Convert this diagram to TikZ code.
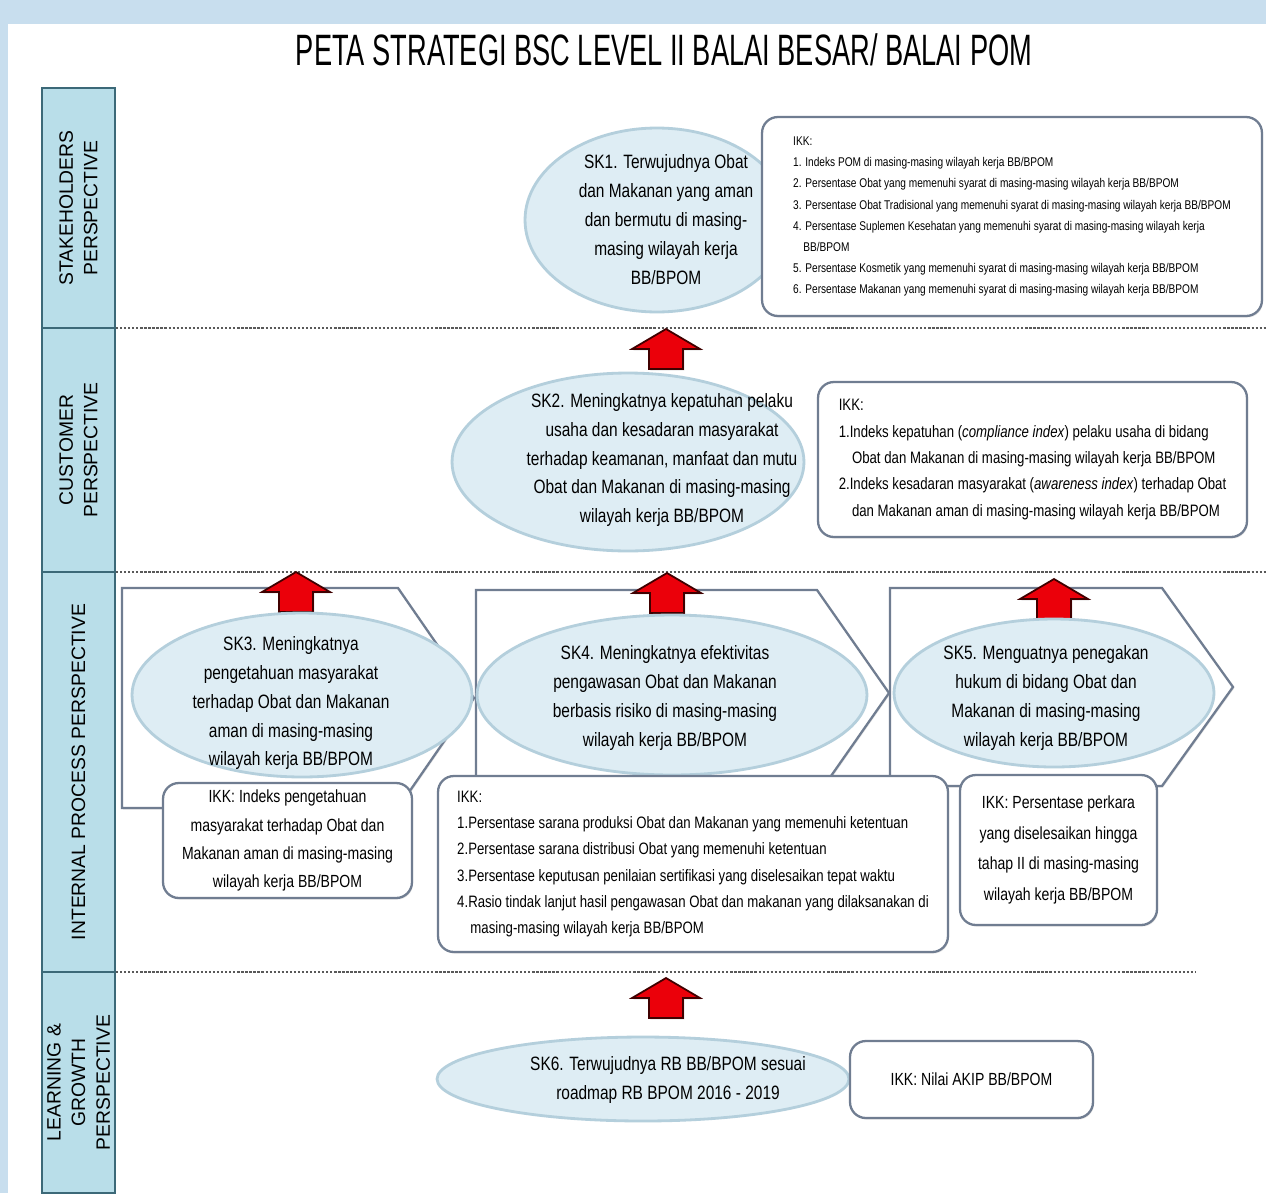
\documentclass[tikz,border=0pt]{standalone}
\usepackage{fontspec}
\setmainfont{Liberation Sans}[FakeStretch=0.8]
\newfontfamily\lanefont{Liberation Sans}
\usetikzlibrary{shapes.geometric,shadows,positioning}

\definecolor{bgblue}{RGB}{200,222,238}
\definecolor{lanefill}{RGB}{185,222,233}
\definecolor{laneline}{RGB}{60,105,120}
\definecolor{goalfill}{RGB}{222,237,244}
\definecolor{goalline}{RGB}{180,207,220}
\definecolor{ikkline}{RGB}{112,125,145}
\definecolor{arrowred}{RGB}{235,0,10}

\tikzset{%
  lane/.style={draw=laneline, fill=lanefill, line width=1.5pt, rotate=90,
    minimum height=1.46cm, align=center, inner sep=0pt,
    font=\lanefont\fontsize{11}{14}\selectfont},
  goal/.style={ellipse, draw=goalline, fill=goalfill, line width=1.6pt, inner sep=0pt},
  goal text/.style={align=center, font=\fontsize{11}{16.5}\selectfont},
  ikk/.style={draw=ikkline, fill=white, line width=1.3pt, rounded corners=9pt,
    inner sep=0pt, drop shadow={opacity=0.2, shadow xshift=0.6pt, shadow yshift=-0.9pt}},
  process/.style={draw=ikkline, fill=white, line width=1.3pt,
    drop shadow={opacity=0.2, shadow xshift=0.6pt, shadow yshift=-0.9pt}},
  redblock/.style={fill=arrowred, draw=black!75!red, line width=1pt,
    drop shadow={opacity=0.35, shadow xshift=0.8pt, shadow yshift=-0.8pt}},
  sepline/.style={draw=black!65, densely dotted, line width=1.3pt}
}

% red block arrow, tip at (#1,#2)
\newcommand{\upblock}[2]{%
  \filldraw[redblock] (#1,#2) -- ++(34,20) -- ++(-17,0) -- ++(0,20)
    -- ++(-34,0) -- ++(0,-20) -- ++(-17,0) -- cycle;}

\begin{document}
\begin{tikzpicture}[x=0.02cm, y=-0.02cm]
  \useasboundingbox (0,0) rectangle (1266,1193);
  \fill[bgblue] (0,0) rectangle (1266,1193);
  \fill[white] (8,24) rectangle (1266,1193);

  % title
  \node (title) at (664,50) {\scalebox{0.62}[1]{\lanefont\fontsize{25}{30}\selectfont
    PETA STRATEGI BSC LEVEL II BALAI BESAR/ BALAI POM}};

  % perspectives
  \node[lane, minimum width=4.8cm] (stake) at (78.5,208) {STAKEHOLDERS\\PERSPECTIVE};
  \node[lane, minimum width=4.88cm] (cust) at (78.5,450) {CUSTOMER\\PERSPECTIVE};
  \node[lane, minimum width=8cm] (intern) at (78.5,772) {INTERNAL PROCESS PERSPECTIVE};
  \node[lane, minimum width=4.42cm] (learn) at (78.5,1082.5) {LEARNING \&\\GROWTH\\PERSPECTIVE};

  \draw[sepline] (116,328) -- (1266,328);
  \draw[sepline] (116,572) -- (1266,572);
  \draw[sepline] (116,972) -- (1195,972);

  % stakeholders
  \node[goal, minimum width=5.28cm, minimum height=3.68cm] (sk1) at (657,220) {};
  \node[goal text] (sk1t) at (666,220) {SK1. Terwujudnya Obat\\dan Makanan yang aman\\dan bermutu di masing-\\masing wilayah kerja\\BB/BPOM};
  \node[ikk, minimum width=10cm, minimum height=3.98cm, align=left,
    font=\fontsize{7.2}{12}\selectfont] (ikk1) at (1012,216.5) {IKK:\\
    1. Indeks POM di masing-masing wilayah kerja BB/BPOM\\
    2. Persentase Obat yang memenuhi syarat di masing-masing wilayah kerja BB/BPOM\\
    3. Persentase Obat Tradisional yang memenuhi syarat di masing-masing wilayah kerja BB/BPOM\\
    4. Persentase Suplemen Kesehatan yang memenuhi syarat di masing-masing wilayah kerja\\
    \hspace*{0.8em}BB/BPOM\\
    5. Persentase Kosmetik yang memenuhi syarat di masing-masing wilayah kerja BB/BPOM\\
    6. Persentase Makanan yang memenuhi syarat di masing-masing wilayah kerja BB/BPOM};

  \upblock{666}{329}

  % customer
  \node[goal, minimum width=7.04cm, minimum height=3.56cm] (sk2) at (628,462) {};
  \node[goal text] (sk2t) at (662,460) {SK2. Meningkatnya kepatuhan pelaku\\usaha dan kesadaran masyarakat\\terhadap keamanan, manfaat dan mutu\\Obat dan Makanan di masing-masing\\wilayah kerja BB/BPOM};
  \node[ikk, minimum width=8.58cm, minimum height=3.1cm, align=left,
    font=\fontsize{9.4}{15}\selectfont] (ikk2) at (1032.5,459.5) {IKK:\\
    1.Indeks kepatuhan (\textit{compliance index}) pelaku usaha di bidang\\
    \hspace*{0.8em}Obat dan Makanan di masing-masing wilayah kerja BB/BPOM\\
    2.Indeks kesadaran masyarakat (\textit{awareness index}) terhadap Obat\\
    \hspace*{0.8em}dan Makanan aman di masing-masing wilayah kerja BB/BPOM};

  % internal process
  \draw[process] (122,588) -- (398,588) -- (474,698) -- (398,808) -- (122,808) -- cycle;
  \draw[process] (476,590) -- (817,590) -- (889,693) -- (817,796) -- (476,796) -- cycle;
  \draw[process] (890,588) -- (1162,588) -- (1233,687) -- (1162,786) -- (890,786) -- cycle;

  \upblock{296}{572}
  \upblock{667}{573}
  \upblock{1054}{579}

  \node[goal, minimum width=6.8cm, minimum height=3.28cm] (sk3) at (302,695) {};
  \node[goal text] (sk3t) at (291,703) {SK3. Meningkatnya\\pengetahuan masyarakat\\terhadap Obat dan Makanan\\aman di masing-masing\\wilayah kerja BB/BPOM};
  \node[goal, minimum width=7.8cm, minimum height=3.2cm] (sk4) at (672,695) {};
  \node[goal text] (sk4t) at (665,698) {SK4. Meningkatnya efektivitas\\pengawasan Obat dan Makanan\\berbasis risiko di masing-masing\\wilayah kerja BB/BPOM};
  \node[goal, minimum width=6.4cm, minimum height=2.96cm] (sk5) at (1054,693) {};
  \node[goal text] (sk5t) at (1046,698) {SK5. Menguatnya penegakan\\hukum di bidang Obat dan\\Makanan di masing-masing\\wilayah kerja BB/BPOM};

  \node[ikk, minimum width=4.98cm, minimum height=2.3cm, align=center,
    font=\fontsize{10}{16}\selectfont] (ikk3) at (287.5,840.5) {IKK: Indeks pengetahuan\\masyarakat terhadap Obat dan\\Makanan aman di masing-masing\\wilayah kerja BB/BPOM};
  \node[ikk, minimum width=10.2cm, minimum height=3.52cm, align=left,
    font=\fontsize{9.4}{15}\selectfont] (ikk4) at (693,864) {IKK:\\
    1.Persentase sarana produksi Obat dan Makanan yang memenuhi ketentuan\\
    2.Persentase sarana distribusi Obat yang memenuhi ketentuan\\
    3.Persentase keputusan penilaian sertifikasi yang diselesaikan tepat waktu\\
    4.Rasio tindak lanjut hasil pengawasan Obat dan makanan yang dilaksanakan di\\
    \hspace*{0.8em}masing-masing wilayah kerja BB/BPOM};
  \node[ikk, minimum width=3.94cm, minimum height=3cm, align=center,
    font=\fontsize{10}{17.5}\selectfont] (ikk5) at (1058.5,850) {IKK: Persentase perkara\\yang diselesaikan hingga\\tahap II di masing-masing\\wilayah kerja BB/BPOM};

  % learning & growth
  \upblock{666}{978}
  \node[goal, minimum width=8.24cm, minimum height=1.68cm] (sk6) at (643,1079) {};
  \node[goal text] (sk6t) at (668,1080) {SK6. Terwujudnya RB BB/BPOM sesuai\\roadmap RB BPOM 2016 - 2019};
  \node[ikk, minimum width=4.86cm, minimum height=1.54cm,
    font=\fontsize{10}{16}\selectfont] (ikk6) at (971.5,1079.5) {IKK: Nilai AKIP BB/BPOM};
\end{tikzpicture}
\end{document}
